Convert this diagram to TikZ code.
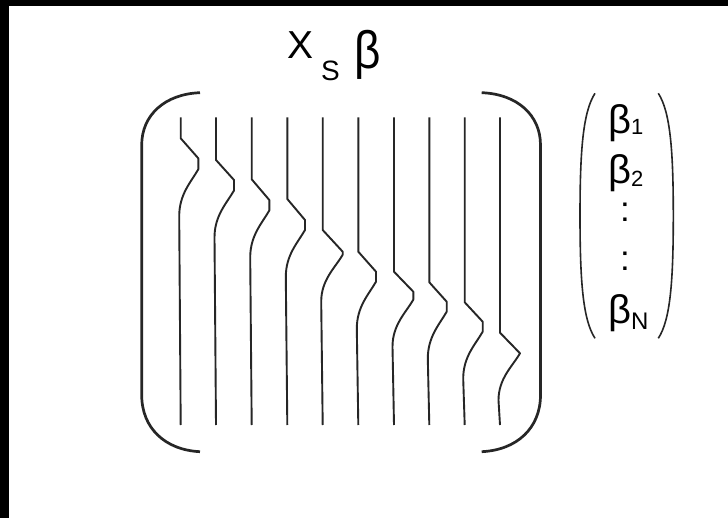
\documentclass[tikz,border=0pt]{standalone}
\usepackage{fontspec}
\setmainfont{Liberation Sans}
\newcommand\subsz{\fontsize{22}{22}\selectfont}
\begin{document}
\begin{tikzpicture}[x=1pt,y=-1pt,
  wire/.style={line width=1.9pt,line join=round,black!85},
  bracket/.style={line width=2.7pt,black!85},
  paren/.style={line width=1.6pt,black!85},
  lbl/.style={inner sep=0pt,anchor=base west},
  entry/.style={lbl,font=\fontsize{40}{40}\selectfont}]
  % page and frame strips
  \fill[white] (0,0) rectangle (728,518);
  \useasboundingbox (0,0) rectangle (728,518);
  \fill[black] (0,0) rectangle (728,6);
  \fill[black] (0,0) rectangle (9,518);

  % title
  \node[lbl,font=\fontsize{39}{39}\selectfont] (tx) at (287,58.3) {X};
  \node[lbl,font=\fontsize{28}{28}\selectfont] (ts) at (321,81) {S};
  \node[lbl,font=\fontsize{52.8}{52.8}\selectfont] (tb) at (354.5,68.9) {\scalebox{0.87}[1]{β}};

  % large bracket
  \draw[bracket] (200,92.7) .. controls (165,94) and (141.7,115) .. (141.7,145)
    -- (141.7,395) .. controls (141.7,428) and (165,450) .. (200,451.7);
  \draw[bracket] (481.7,92.7) .. controls (517,94) and (540.5,115) .. (540.5,145)
    -- (540.5,395) .. controls (540.5,428) and (517,450) .. (481.7,451.7);

  % wavelet traces: x, kink start, kink width, kink depth, flat part
  \foreach \x/\s/\dx/\dy/\v in {
      180.7/138.3/17.6/20/11,
      216/160/18/20/10.5,
      251.7/179.3/17.6/20.7/10.5,
      287.3/199/17.7/21/10,
      322.7/230/20/21.7/3,
      358.3/251.7/17.7/20/10,
      394/271.7/19.3/20/8,
      429.3/282.3/17.4/19.4/10,
      464.7/302.3/18/19.4/10,
      500/332.7/20/20.6/0}{
    \pgfmathsetmacro\ya{\s+\dy}
    \pgfmathsetmacro\yb{\s+\dy+\v}
    \draw[wire] (\x,117.3) -- (\x,\s) -- (\x+\dx,\ya) -- (\x+\dx,\yb)
      .. controls (\x+\dx-7.5,\yb+13) and (\x-1.5,\yb+25) .. (\x-1.5,\yb+47)
      -- (\x,425);
  }

  % coefficient vector
  \draw[paren] (595,93.3) .. controls (583,112) and (580,150) .. (580,215.8)
    .. controls (580,282) and (583,320) .. (595,338.3);
  \draw[paren] (658.3,93.3) .. controls (670.3,112) and (673.3,150) .. (673.3,215.8)
    .. controls (673.3,282) and (670.3,320) .. (658.3,338.3);
  \node[entry] (b1) at (608,134) {β\raisebox{-1pt}{\subsz 1}};
  \node[entry] (b2) at (608,183.3) {β\raisebox{-3.5pt}{\subsz 2}};
  \node[inner sep=0pt,anchor=base,font=\fontsize{35}{35}\selectfont] (d1) at (625,221.8) {:};
  \node[inner sep=0pt,anchor=base,font=\fontsize{35}{35}\selectfont] (d2) at (625,270.8) {:};
  \node[entry] (bn) at (608,323.3) {β\raisebox{-6pt}{\fontsize{24}{24}\selectfont N}};
\end{tikzpicture}
\end{document}
